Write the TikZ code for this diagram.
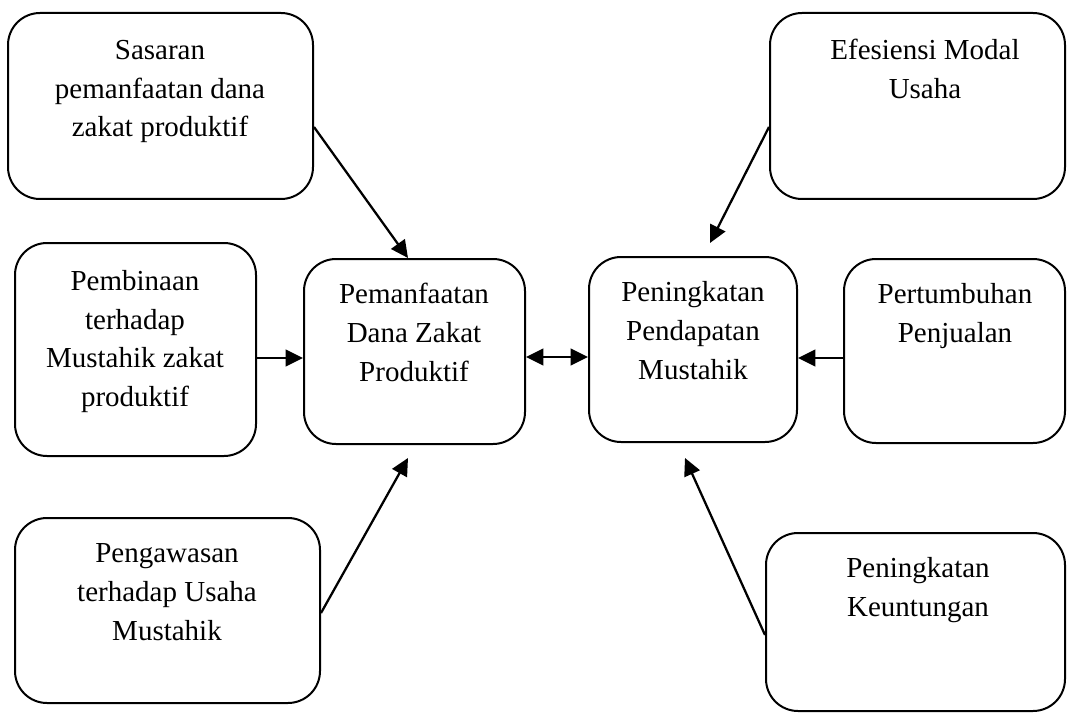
\documentclass[tikz,border=0pt]{standalone}
\usepackage{fontspec}
\setmainfont{Liberation Serif}
\usetikzlibrary{fit,arrows.meta}
\begin{document}
\begin{tikzpicture}[x=0.75pt,y=-0.75pt,
  box/.style={draw, line width=1.5pt, rounded corners=24pt, inner sep=0pt},
  txt/.style={align=center, anchor=base, inner sep=0pt, font=\fontsize{21.75pt}{28.9pt}\selectfont},
  arr/.style={line width=1.7pt, -{Triangle[length=13pt,width=12.5pt]}},
  darr/.style={line width=1.7pt, {Triangle[length=13pt,width=12.5pt]}-{Triangle[length=13pt,width=12.5pt]}}]
\useasboundingbox (0,0) rectangle (1067,713);
% boxes
\node[box, fit={(8,13) (313,199)}] (sas) {};
\node[box, fit={(15,243) (256,456)}] (pemb) {};
\node[box, fit={(15,518) (320,703)}] (peng) {};
\node[box, fit={(304,259) (525,444)}] (pem) {};
\node[box, fit={(589,257) (797,442)}] (pin) {};
\node[box, fit={(770,13) (1065,199)}] (efe) {};
\node[box, fit={(844,259) (1065,443)}] (pert) {};
\node[box, fit={(766,533) (1065,711)}] (keu) {};
% texts (anchored at the baseline of the last line)
\node[txt] (tsas) at (160,137) {Sasaran\\pemanfaatan dana\\zakat produktif};
\node[txt] (tpemb) at (135,406.5) {Pembinaan\\terhadap\\Mustahik zakat\\produktif};
\node[txt] (tpeng) at (167,640) {Pengawasan\\terhadap Usaha\\Mustahik};
\node[txt] (tpem) at (414,381) {Pemanfaatan\\Dana Zakat\\Produktif};
\node[txt] (tpin) at (693,379) {Peningkatan\\Pendapatan\\Mustahik};
\node[txt] (tefe) at (925,98.5) {Efesiensi Modal\\Usaha};
\node[txt] (tpert) at (955,342.5) {Pertumbuhan\\Penjualan};
\node[txt] (tkeu) at (918,616.5) {Peningkatan\\Keuntungan};
% free arrow ends
\coordinate (e3) at (408,458);
\coordinate (e5) at (710,243);
\coordinate (e7) at (685,458);
% connectors
\draw[arr] (sas.east |- 0,127) -- (408,0 |- pem.north);
\draw[arr] (pemb.east |- 0,358) -- (pem.west |- 0,358);
\draw[arr] (peng.east |- 0,613) -- (e3);
\draw[darr] (pem.east |- 0,357) -- (pin.west |- 0,357);
\draw[arr] (efe.west |- 0,127) -- (e5);
\draw[arr] (pert.west |- 0,358) -- (pin.east |- 0,358);
\draw[arr] (keu.west |- 0,635) -- (e7);
\end{tikzpicture}
\end{document}
